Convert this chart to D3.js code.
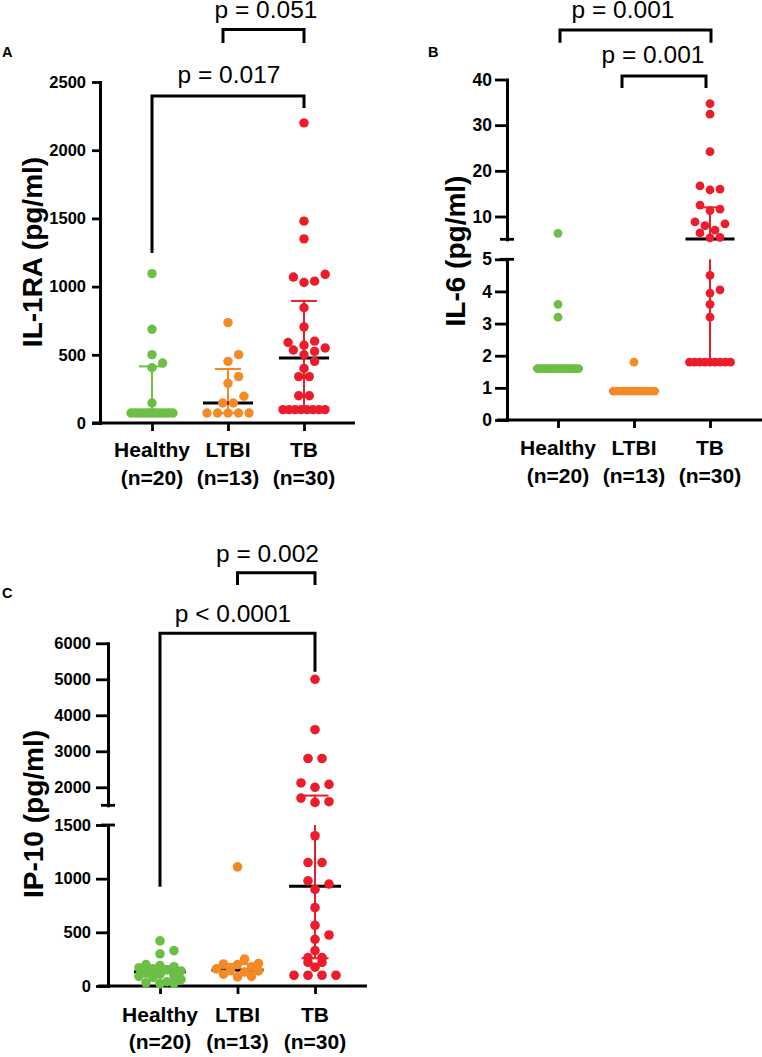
<!DOCTYPE html>
<html><head><meta charset="utf-8">
<script src="https://cdn.jsdelivr.net/npm/d3@7"></script>
<style>
body{margin:0;background:#fff}
svg{display:block}
text{font-family:Arial,"Liberation Sans",Helvetica,sans-serif;fill:#000}
</style>
</head><body>
<svg id="chart" width="762" height="1057"></svg>
<script>
// ---------------- DATA ----------------
const groups = ["Healthy", "LTBI", "TB"];
const groupN = ["(n=20)", "(n=13)", "(n=30)"];
const groupColors = ["#6cbf45", "#f58a25", "#ec1c2a"];

// Panel A: IL-1RA (pg/ml)
const il1raHealthy = [1095, 687, 501, 440, 405, 147, 73, 73, 73, 73, 73, 73, 73, 73, 73, 73, 73, 73, 73, 73];
const il1raLtbi = [736, 501, 452, 340, 291, 196, 147, 147, 73, 73, 73, 73, 73];
const il1raTb = [2200, 1480, 1350, 1090, 1070, 1040, 1030, 845, 705, 600, 590, 570, 550, 535, 525, 500, 452, 400, 340, 340, 200, 200, 98, 98, 98, 98, 98, 98, 98, 98];
const il1raMedian = [73, 147, 477];
const il1raLow = [73, 73, 98];
const il1raHigh = [415, 396, 895];
const il1raTicks = [0, 500, 1000, 1500, 2000, 2500];
const il1raP = ["p = 0.017", "p = 0.051"];

// Panel B: IL-6 (pg/ml)
const il6Healthy = [6.3, 3.6, 3.2, 1.6, 1.6, 1.6, 1.6, 1.6, 1.6, 1.6, 1.6, 1.6, 1.6, 1.6, 1.6, 1.6, 1.6, 1.6, 1.6, 1.6];
const il6Ltbi = [1.8, 0.9, 0.9, 0.9, 0.9, 0.9, 0.9, 0.9, 0.9, 0.9, 0.9, 0.9, 0.9];
const il6Tb = [34.7, 32.4, 24.2, 16.7, 16.0, 15.8, 12.5, 11.6, 11.3, 8.8, 8.4, 8.0, 7.0, 6.4, 5.4, 5.3, 4.5, 4.05, 3.95, 3.6, 3.2, 1.8, 1.8, 1.8, 1.8, 1.8, 1.8, 1.8, 1.8, 1.8];
const il6Median = [1.6, 0.9, 5.05];
const il6Low = [1.6, 0.9, 1.8];
const il6High = [1.6, 0.9, 12];
const il6TicksLow = [0, 1, 2, 3, 4, 5];
const il6TicksHigh = [10, 20, 30, 40];
const il6P = ["p = 0.001", "p = 0.001"];

// Panel C: IP-10 (pg/ml)
const ip10Healthy = [420, 330, 300, 200, 190, 180, 170, 160, 150, 140, 120, 110, 100, 90, 80, 60, 40, 30, 25, 20];
const ip10Ltbi = [1110, 250, 210, 205, 200, 180, 160, 150, 140, 130, 110, 90, 85];
const ip10Tb = [5000, 3600, 2800, 2800, 2120, 2080, 2000, 1700, 1600, 1580, 1400, 1150, 1150, 980, 950, 900, 730, 565, 475, 435, 330, 265, 265, 220, 220, 175, 100, 100, 100, 100];
const ip10Median = [133, 148, 930];
const ip10Low = [50, 110, 258];
const ip10High = [186, 205, 1770];
const ip10TicksLow = [0, 500, 1000, 1500];
const ip10TicksHigh = [2000, 3000, 4000, 5000, 6000];
const ip10P = ["p < 0.0001", "p = 0.002"];

// ---------------- DRAWING ----------------
const svg = d3.select("#chart");

function makeY(segs) {
  const scales = segs.map(s => d3.scaleLinear().domain(s.dom).range(s.rng));
  const f = v => {
    for (let i = 0; i < segs.length; i++) {
      if (v <= segs[i].dom[1] || i === segs.length - 1) return scales[i](v);
    }
  };
  f.scales = scales;
  return f;
}

function swarm(values, yf, cx, step, maxHalf, r) {
  const counts = d3.rollup(values, v => v.length, d => d);
  const placed = [];
  for (const [val, n] of counts) {
    if (n >= 2) {
      const st = n > 1 ? Math.min(step, 2 * maxHalf / (n - 1)) : 0;
      for (let i = 0; i < n; i++) placed.push({x: cx + (i - (n - 1) / 2) * st, y: yf(val)});
    }
  }
  const rest = values.filter(v => counts.get(v) < 2).sort((a, b) => a - b);
  const cands = [0];
  for (let k = 1; k * step / 2 <= maxHalf + 0.6; k++) cands.push(k * step / 2, -k * step / 2);
  const minD = 2 * r * 0.95;
  for (const v of rest) {
    const y = yf(v);
    let best = null, bestX = cx, bestD = -1;
    for (const c of cands) {
      const x = cx + c;
      let md = Infinity;
      for (const p of placed) md = Math.min(md, Math.hypot(p.x - x, p.y - y));
      if (md >= minD) { best = x; break; }
      if (md > bestD) { bestD = md; bestX = x; }
    }
    placed.push({x: best !== null ? best : bestX, y});
  }
  return placed;
}

function drawPanel(cfg) {
  const g = svg.append("g");
  const y = makeY(cfg.segs);
  const x = d3.scalePoint().domain(groups).range(cfg.catRange);

  // Y axis segments
  cfg.segs.forEach((s, i) => {
    const ax = g.append("g").attr("transform", `translate(${cfg.axisX},0)`)
      .call(d3.axisLeft(y.scales[i]).tickValues(s.ticks).tickSize(cfg.tickLen)
        .tickPadding(cfg.tickPad).tickSizeOuter(0).tickFormat(d3.format("d")));
    ax.attr("font-size", cfg.tickFont).attr("font-weight", "bold")
      .attr("font-family", "Arial, 'Liberation Sans', sans-serif");
    ax.select(".domain").attr("stroke", "#000").attr("stroke-width", 3).attr("stroke-linecap", "square");
    ax.selectAll(".tick line").attr("stroke", "#000").attr("stroke-width", 2.8);
    ax.selectAll(".tick text").attr("fill", "#000");
  });
  // break caps
  if (cfg.segs.length > 1) {
    const ends = [cfg.segs[0].rng[1], cfg.segs[1].rng[0]];
    ends.forEach(e => g.append("line").attr("x1", cfg.axisX - 7).attr("x2", cfg.axisX + 7)
      .attr("y1", e).attr("y2", e).attr("stroke", "#000").attr("stroke-width", 2.8));
  }

  // X axis
  const xb = cfg.segs[0].rng[0];
  g.append("line").attr("x1", cfg.xAxisRange[0]).attr("x2", cfg.xAxisRange[1])
    .attr("y1", xb).attr("y2", xb).attr("stroke", "#000").attr("stroke-width", 3);
  const xa = g.append("g").attr("transform", `translate(0,${xb})`)
    .call(d3.axisBottom(x).tickSize(8).tickFormat(() => "").tickSizeOuter(0));
  xa.select(".domain").remove();
  xa.selectAll(".tick line").attr("stroke", "#000").attr("stroke-width", 2.8);

  groups.forEach((grp, i) => {
    const t = g.append("text").attr("text-anchor", "middle").attr("font-weight", "bold")
      .attr("font-size", 21).attr("x", x(grp));
    t.append("tspan").attr("x", x(grp)).attr("y", xb + cfg.lab1).text(grp);
    t.append("tspan").attr("x", x(grp)).attr("y", xb + cfg.lab2).text(groupN[i]);
  });

  // Y title
  g.append("text").attr("transform", `translate(${cfg.titleX},${cfg.titleY}) rotate(-90)`)
    .attr("text-anchor", "middle").attr("font-weight", "bold").attr("font-size", 28).text(cfg.title);

  // panel letter
  g.append("text").attr("x", cfg.letterX).attr("y", cfg.letterY).attr("font-weight", "bold")
    .attr("font-size", 14.5).text(cfg.letter);

  // error bars + medians (behind dots)
  groups.forEach((grp, i) => {
    const cx = x(grp);
    const col = groupColors[i];
    const lo = cfg.low[i], hi = cfg.high[i];
    cfg.segs.forEach((s, k) => {
      const a = Math.max(lo, s.dom[0]), b = Math.min(hi, s.dom[1]);
      if (b > a) {
        g.append("line").attr("x1", cx).attr("x2", cx)
          .attr("y1", y.scales[k](a)).attr("y2", y.scales[k](b))
          .attr("stroke", col).attr("stroke-width", 2);
      }
    });
    [lo, hi].forEach(v => g.append("line").attr("x1", cx - cfg.capW / 2).attr("x2", cx + cfg.capW / 2)
      .attr("y1", y(v)).attr("y2", y(v)).attr("stroke", col).attr("stroke-width", 2));
    g.append("line").attr("x1", cx - cfg.medW / 2).attr("x2", cx + cfg.medW / 2)
      .attr("y1", y(cfg.median[i])).attr("y2", y(cfg.median[i]))
      .attr("stroke", "#000").attr("stroke-width", 3);
  });

  // dots
  cfg.series.forEach((vals, i) => {
    const pts = swarm(vals, y, x(groups[i]), cfg.step, cfg.maxHalf, cfg.r);
    g.append("g").selectAll("circle").data(pts).join("circle")
      .attr("cx", d => d.x).attr("cy", d => d.y).attr("r", cfg.r)
      .attr("fill", groupColors[i]);
  });

  // significance brackets
  cfg.brackets.forEach((b, j) => {
    const xA = x(groups[b.a]) + b.dxA, xB = x(groups[b.b]) + b.dxB;
    g.append("path").attr("d", `M${xA},${b.legA}V${b.top}H${xB}V${b.legB}`)
      .attr("fill", "none").attr("stroke", "#000").attr("stroke-width", 3)
      .attr("stroke-linejoin", "miter");
    g.append("text").attr("x", b.tx).attr("y", b.ty).attr("text-anchor", "middle")
      .attr("font-size", 24.5).text(cfg.pLabels[j]);
  });
}

drawPanel({
  letter: "A", letterX: 2, letterY: 57,
  title: "IL-1RA (pg/ml)", titleX: 42, titleY: 252,
  axisX: 100,
  segs: [{dom: [0, 2500], rng: [423, 82], ticks: il1raTicks}],
  tickLen: 8, tickPad: 6, tickFont: 16.5,
  xAxisRange: [92, 355], catRange: [152, 304],
  lab1: 34, lab2: 62,
  series: [il1raHealthy, il1raLtbi, il1raTb],
  median: il1raMedian, low: il1raLow, high: il1raHigh,
  medW: 50, capW: 26, r: 4.7, step: 10.6, maxHalf: 21,
  pLabels: il1raP,
  brackets: [
    {a: 0, b: 2, dxA: 0, dxB: 0, top: 96, legA: 253, legB: 108, tx: 229, ty: 83},
    {a: 1, b: 2, dxA: -5, dxB: 0, top: 29.5, legA: 43, legB: 43, tx: 266, ty: 18.3}
  ]
});

drawPanel({
  letter: "B", letterX: 428, letterY: 57,
  title: "IL-6 (pg/ml)", titleX: 465, titleY: 251,
  axisX: 507,
  segs: [{dom: [0, 5], rng: [420, 259.3], ticks: il6TicksLow},
         {dom: [5, 40], rng: [239.3, 79.5], ticks: il6TicksHigh}],
  tickLen: 12, tickPad: 3, tickFont: 17.5,
  xAxisRange: [497, 762], catRange: [558, 710],
  lab1: 35, lab2: 63,
  series: [il6Healthy, il6Ltbi, il6Tb],
  median: il6Median, low: il6Low, high: il6High,
  medW: 49, capW: 26, r: 4.4, step: 10, maxHalf: 20.5,
  pLabels: il6P,
  brackets: [
    {a: 0, b: 2, dxA: 2, dxB: 1, top: 30, legA: 42.7, legB: 42.7, tx: 623, ty: 18.3},
    {a: 1, b: 2, dxA: -12, dxB: -4, top: 76, legA: 88, legB: 88, tx: 653, ty: 63.3}
  ]
});

drawPanel({
  letter: "C", letterX: 2, letterY: 598,
  title: "IP-10 (pg/ml)", titleX: 43, titleY: 814,
  axisX: 108,
  segs: [{dom: [0, 1500], rng: [986, 825], ticks: ip10TicksLow},
         {dom: [1500, 6000], rng: [805.3, 643.3], ticks: ip10TicksHigh}],
  tickLen: 12, tickPad: 5, tickFont: 16.5,
  xAxisRange: [98, 367], catRange: [160, 315],
  lab1: 35.7, lab2: 63,
  series: [ip10Healthy, ip10Ltbi, ip10Tb],
  median: ip10Median, low: ip10Low, high: ip10High,
  medW: 52, capW: 27, r: 4.8, step: 14, maxHalf: 21,
  pLabels: ip10P,
  brackets: [
    {a: 0, b: 2, dxA: 0, dxB: 0, top: 633.3, legA: 886.7, legB: 671.7, tx: 233, ty: 621.7},
    {a: 1, b: 2, dxA: 0, dxB: 0, top: 572.7, legA: 585, legB: 585, tx: 267.5, ty: 561.7}
  ]
});
</script>
</body></html>
